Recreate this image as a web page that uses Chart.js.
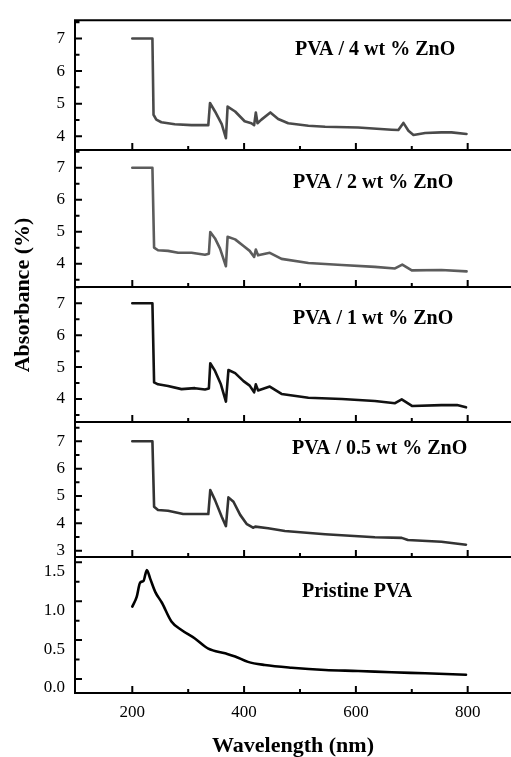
<!DOCTYPE html>
<html>
<head>
<meta charset="utf-8">
<script src="https://cdn.jsdelivr.net/npm/chart.js@4"></script>
<style>
  html, body { margin: 0; padding: 0; background: #fff; overflow: hidden; }
  #wrap { position: relative; width: 511px; height: 757px; }
  #wrap canvas { position: absolute; left: 0; top: 0; }
</style>
</head>
<body>
<div id="wrap">
  <canvas id="p1" width="511" height="757"></canvas>
  <canvas id="p2" width="511" height="757"></canvas>
  <canvas id="p3" width="511" height="757"></canvas>
  <canvas id="p4" width="511" height="757"></canvas>
  <canvas id="p5" width="511" height="757"></canvas>
</div>
<script>
// ---- data ----
// PVA / 4 wt % ZnO
const wl4 = [200, 236, 238, 243, 252, 276, 306, 336, 339, 348, 360, 367.5, 370.5, 384, 401, 413, 418, 421, 424, 431, 447, 461, 479, 515, 545, 604, 664, 676, 685, 694, 703, 724, 753, 771, 798];
const abs4 = [7.0, 7.0, 4.66, 4.51, 4.43, 4.37, 4.34, 4.34, 5.02, 4.76, 4.37, 3.94, 4.91, 4.76, 4.46, 4.40, 4.34, 4.73, 4.40, 4.51, 4.73, 4.53, 4.40, 4.32, 4.29, 4.27, 4.20, 4.19, 4.41, 4.17, 4.04, 4.10, 4.12, 4.12, 4.07];

// PVA / 2 wt % ZnO
const wl2 = [200, 236, 239, 246, 264, 282, 306, 330, 337, 339.5, 348, 357, 367.5, 370.5, 384, 399, 410, 418, 421, 425, 446, 467, 515, 575, 634, 670, 683, 700, 753, 798];
const abs2 = [7.0, 7.0, 4.50, 4.42, 4.40, 4.34, 4.34, 4.28, 4.31, 4.99, 4.79, 4.47, 3.92, 4.84, 4.76, 4.55, 4.40, 4.21, 4.44, 4.26, 4.34, 4.15, 4.02, 3.96, 3.90, 3.85, 3.97, 3.79, 3.80, 3.76];

// PVA / 1 wt % ZnO
const wl1 = [200, 236, 239, 246, 264, 288, 312, 330, 337, 339.5, 348, 358.5, 367.5, 372, 384, 399, 410, 418, 421, 425, 446, 467, 515, 575, 634, 670, 682, 701, 753, 781, 797];
const abs1 = [7.0, 7.0, 4.52, 4.46, 4.41, 4.31, 4.34, 4.30, 4.33, 5.12, 4.88, 4.46, 3.92, 4.91, 4.81, 4.56, 4.42, 4.21, 4.46, 4.27, 4.39, 4.16, 4.04, 4.00, 3.94, 3.87, 3.99, 3.78, 3.81, 3.81, 3.74];

// PVA / 0.5 wt % ZnO
const wl05 = [200, 236, 239, 246, 264, 291, 336, 339.5, 348, 360, 367.5, 372, 381, 393, 405, 416, 420, 443, 473, 545, 634, 682, 693, 753, 797];
const abs05 = [7.0, 7.0, 4.61, 4.49, 4.46, 4.34, 4.34, 5.22, 4.85, 4.24, 3.90, 4.95, 4.79, 4.31, 3.97, 3.84, 3.88, 3.82, 3.72, 3.60, 3.49, 3.47, 3.39, 3.33, 3.22];

// Pristine PVA
const wl0 = [200, 208, 214, 220, 226, 232, 241, 253, 270, 288, 312, 336, 366, 384, 407, 437, 485, 545, 604, 664, 724, 797];
const abs0 = [0.93, 1.06, 1.24, 1.26, 1.40, 1.29, 1.12, 0.98, 0.74, 0.63, 0.52, 0.39, 0.33, 0.29, 0.22, 0.18, 0.145, 0.116, 0.103, 0.086, 0.073, 0.055];

// ticks
const xMajor = [200, 400, 600, 800];
const xMinor = [300, 500, 700];
const yMajorHi = [4, 5, 6, 7];
const yMinorHi = [3.5, 4.5, 5.5, 6.5, 7.5];
const yMajor05 = [3, 4, 5, 6, 7];
const yMinor05 = [3.5, 4.5, 5.5, 6.5, 7.5];
const yMajor0 = [0.0, 0.5, 1.0, 1.5];
const yMinor0 = [0.25, 0.75, 1.25];

const labels = ['PVA / 4 wt % ZnO', 'PVA / 2 wt % ZnO', 'PVA / 1 wt % ZnO', 'PVA / 0.5 wt % ZnO', 'Pristine PVA'];

const SERIF = '"Liberation Serif", "DejaVu Serif", serif';

// frame, inward ticks and the panel texts
const framePlugin = {
  id: 'frame',
  afterDraw(chart, args, o) {
    const { ctx, chartArea: a, scales: { x, y } } = chart;
    ctx.save();
    ctx.strokeStyle = '#000';
    ctx.lineWidth = 2;
    ctx.lineCap = 'butt';
    ctx.beginPath();
    ctx.moveTo(a.left, a.top);
    ctx.lineTo(a.left, a.bottom);
    ctx.lineTo(a.right, a.bottom);
    if (o.drawTop) {
      ctx.moveTo(a.left - 1, a.top);
      ctx.lineTo(a.right, a.top);
    }
    // y ticks
    o.yMajor.forEach(v => {
      const p = y.getPixelForValue(v);
      ctx.moveTo(a.left, p); ctx.lineTo(a.left + 7, p);
    });
    o.yMinor.forEach(v => {
      const p = y.getPixelForValue(v);
      if (p < a.top || p > a.bottom) return;
      ctx.moveTo(a.left, p); ctx.lineTo(a.left + 4.5, p);
    });
    // x ticks
    xMajor.forEach(v => {
      const p = x.getPixelForValue(v);
      ctx.moveTo(p, a.bottom); ctx.lineTo(p, a.bottom - 7);
    });
    xMinor.forEach(v => {
      const p = x.getPixelForValue(v);
      ctx.moveTo(p, a.bottom); ctx.lineTo(p, a.bottom - 4);
    });
    ctx.stroke();

    ctx.fillStyle = '#000';
    ctx.font = 'bold 20px ' + SERIF;
    ctx.textAlign = 'left';
    ctx.textBaseline = 'middle';
    ctx.fillText(o.label, o.labelX, o.labelY);

    if (o.yTitle) {
      ctx.save();
      ctx.translate(23, 295);
      ctx.rotate(-Math.PI / 2);
      ctx.textAlign = 'center';
      ctx.font = 'bold 22px ' + SERIF;
      ctx.fillText(o.yTitle, 0, 0);
      ctx.restore();
    }
    ctx.restore();
  }
};

function makePanel(id, wl, abs, cfg) {
  const last = !!cfg.last;
  return new Chart(document.getElementById(id), {
    type: 'line',
    data: {
      datasets: [{
        data: wl.map((w, i) => ({ x: w, y: abs[i] })),
        borderColor: cfg.color,
        borderWidth: 2.6,
        borderJoinStyle: 'round',
        borderCapStyle: 'round',
        pointRadius: 0,
        fill: false,
        tension: cfg.tension || 0,
        cubicInterpolationMode: cfg.tension ? 'monotone' : 'default'
      }]
    },
    options: {
      responsive: false,
      animation: false,
      events: [],
      layout: { padding: { top: cfg.top, bottom: last ? 0 : 757 - cfg.bottom, left: 0, right: 0 } },
      plugins: {
        legend: { display: false },
        tooltip: { enabled: false },
        frame: {
          drawTop: !!cfg.drawTop,
          yMajor: cfg.yMajor,
          yMinor: cfg.yMinor,
          label: cfg.label,
          labelX: cfg.labelX,
          labelY: cfg.labelY,
          yTitle: cfg.yTitle
        }
      },
      scales: {
        x: {
          type: 'linear',
          min: 97.5,
          max: 877.5,
          display: last,
          afterBuildTicks: s => { s.ticks = xMajor.map(v => ({ value: v })); },
          afterFit: s => { s.height = last ? 64 : 0; },
          grid: { display: false, drawTicks: false },
          border: { display: false },
          ticks: { padding: 9, color: '#000', font: { family: SERIF, size: 17 }, maxRotation: 0 },
          title: {
            display: last,
            text: 'Wavelength (nm)',
            color: '#000',
            padding: 0,
            font: { family: SERIF, size: 22, weight: 'bold', lineHeight: 1 }
          }
        },
        y: {
          type: 'linear',
          min: cfg.yMin,
          max: cfg.yMax,
          afterBuildTicks: s => { s.ticks = cfg.yMajor.map(v => ({ value: v })); },
          afterFit: s => { s.width = 75; },
          grid: { display: false, drawTicks: false },
          border: { display: false },
          ticks: {
            padding: 10,
            autoSkip: false,
            color: '#000',
            labelOffset: cfg.labelOffset || 0,
            font: { family: SERIF, size: 17 },
            callback: cfg.fmt || (v => v)
          }
        }
      }
    },
    plugins: [framePlugin]
  });
}

makePanel('p1', wl4, abs4, {
  color: '#4a4a4a', top: 15, bottom: 150, yMin: 3.578, yMax: 7.56, drawTop: true,
  yMajor: yMajorHi, yMinor: yMinorHi, label: labels[0], labelX: 295, labelY: 50
});
makePanel('p2', wl2, abs2, {
  color: '#5c5c5c', top: 150, bottom: 287, yMin: 3.27, yMax: 7.555,
  yMajor: yMajorHi, yMinor: yMinorHi, label: labels[1], labelX: 293, labelY: 183
});
makePanel('p3', wl1, abs1, {
  color: '#111111', top: 287, bottom: 422, yMin: 3.28, yMax: 7.51,
  yMajor: yMajorHi, yMinor: yMinorHi, label: labels[2], labelX: 293, labelY: 319,
  yTitle: 'Absorbance (%)'
});
makePanel('p4', wl05, abs05, {
  color: '#333333', top: 422, bottom: 557, yMin: 2.77, yMax: 7.706,
  yMajor: yMajor05, yMinor: yMinor05, label: labels[3], labelX: 292, labelY: 449
});
makePanel('p5', wl0, abs0, {
  color: '#000000', top: 557, bottom: 693, yMin: -0.18, yMax: 1.568, last: true,
  tension: 0.4, yMajor: yMajor0, yMinor: yMinor0, label: labels[4], labelX: 302, labelY: 592,
  labelOffset: 9, fmt: v => Number(v).toFixed(1)
});
</script>
</body>
</html>
